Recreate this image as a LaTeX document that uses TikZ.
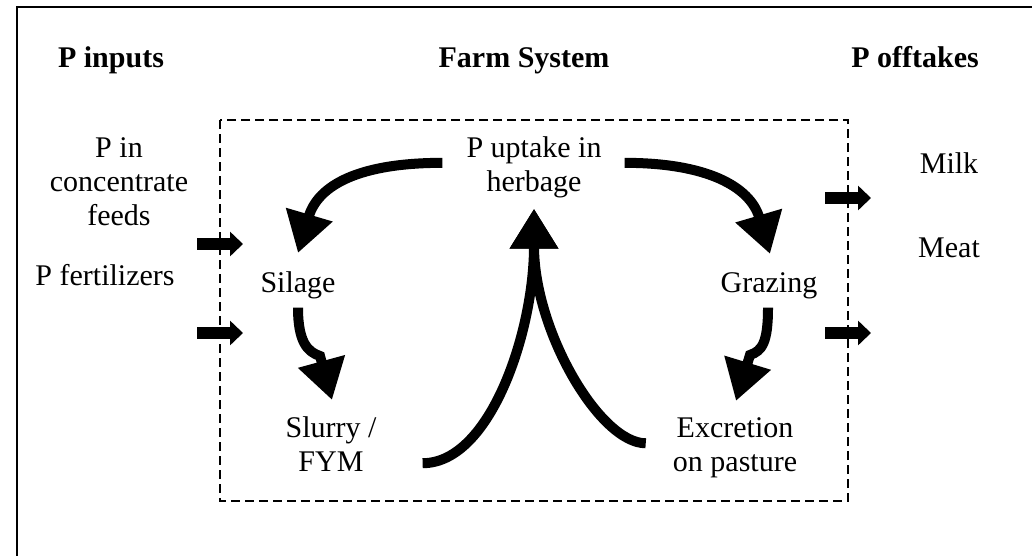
\documentclass[tikz,border=0pt]{standalone}
\usepackage{fontspec}
\setmainfont{Liberation Serif}
\usetikzlibrary{arrows.meta}

\begin{document}
\begin{tikzpicture}[
    x=1pt, y=-1pt,
    every node/.style={font=\fontsize{30}{34}\selectfont, inner sep=0pt, align=center},
    heading/.style={font=\fontsize{30}{34}\selectfont\bfseries, anchor=base},
    term/.style={anchor=base},
    flow/.style={line width=10pt, -{Triangle[length=40pt, width=46pt]}},
    pipe/.style={line width=12pt, -{Triangle[length=13pt, width=24pt]}},
    boundary/.style={line width=1.5pt, dash pattern=on 9pt off 5pt},
]

% ================================================================
%   units are pixels of the page, y running downwards
%   farm boundary   (220,120) to (848,501)
%   inputs cross at x = 197..243, offtakes at x = 825..871
%   a multi-line node sits on the baseline of its last line
% ================================================================

\useasboundingbox (0,0) rectangle (1032,555);
\draw[line width=2.3pt] (17,570) |- (1045,7);

% ---------------------------------------------------------------- headings
\node[heading] (hinputs)   at (111,67) {P inputs};
\node[heading] (hfarm)     at (524,67) {Farm System};
\node[heading] (hofftakes) at (915,67) {P offtakes};

% ---------------------------------------------------------------- boundary
\draw[boundary] (220,120) rectangle (848,501);

% ---------------------------------------------------------------- inputs
\node[term] (conc) at (119,225) {P in\\concentrate\\feeds};
\node[term] (fert) at (105,285) {P fertilizers};

\foreach \y [count=\i] in {244,333} {
    \coordinate (in\i)  at (197,\y);
    \coordinate (in\i') at (243,\y);
    \draw[pipe] (in\i) -- (in\i');
}

% ---------------------------------------------------------------- farm system
\node[term] (uptake)    at (534,191) {P uptake in\\herbage};
\node[term] (silage)    at (298,292) {Silage};
\node[term] (grazing)   at (769,292) {Grazing};
\node[term] (slurry)    at (331,471) {Slurry /\\FYM};
\node[term] (excretion) at (735,471) {Excretion\\on pasture};

% herbage is cut for silage or grazed
\draw[flow] ([shift={(-24,-4)}]uptake.west)
    .. controls +(-83,0) and +(20,-68) .. ([shift={(0,-18)}]silage.north);
\draw[flow] ([shift={(23,-4)}]uptake.east)
    .. controls +(81,0) and +(-20,-68) .. ([shift={(1,-18)}]grazing.north);

% silage ends up as slurry, grazing as excreta
\draw[flow] ([shift={(0,9)}]silage.south)
    .. controls +(0,35) and +(-12,-4) .. ([shift={(-11,-60)}]slurry.north)
    -- ([shift={(1,-16)}]slurry.north);
\draw[flow] ([shift={(-1,9)}]grazing.south)
    .. controls +(0,35) and +(12,-4) .. ([shift={(15,-62)}]excretion.north)
    -- ([shift={(1,-16)}]excretion.north);

% both return to the herbage
\draw[flow] ([shift={(46,-8)}]slurry.south east)
    .. controls +(68,0) and +(0,122) .. ([shift={(0,11)}]uptake.south);
\draw[flow] ([shift={(-27,-4)}]excretion.west)
    .. controls +(-46,0) and +(0,122) .. ([shift={(0,11)}]uptake.south);

% ---------------------------------------------------------------- offtakes
\node[term] (milk) at (949,173) {Milk};
\node[term] (meat) at (949,257) {Meat};

\foreach \y [count=\i] in {198,333} {
    \coordinate (out\i)  at (825,\y);
    \coordinate (out\i') at (871,\y);
    \draw[pipe] (out\i) -- (out\i');
}

\end{tikzpicture}
\end{document}
